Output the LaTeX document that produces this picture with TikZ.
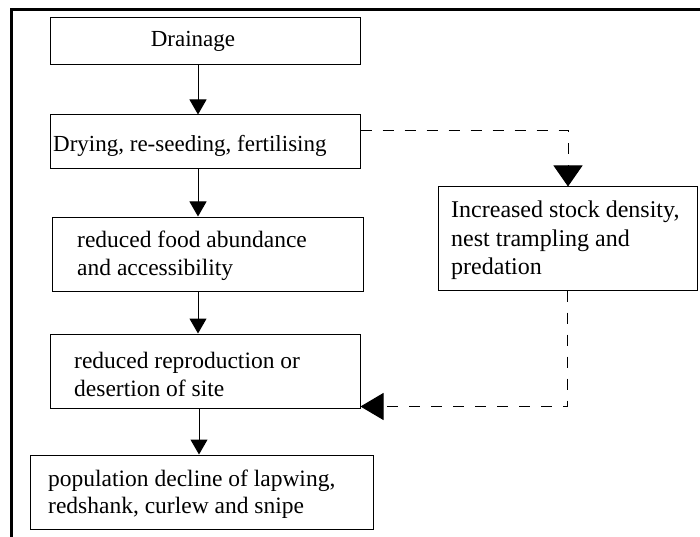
\documentclass[tikz,border=0pt]{standalone}
\usepackage{fontspec}
\setmainfont{Liberation Serif}
\usetikzlibrary{arrows.meta}
\begin{document}
\begin{tikzpicture}[x=1pt,y=-1pt,
  box/.style={draw=black, line width=1pt, inner sep=0pt, minimum width=#1},
  txt/.style={inner sep=0pt, align=left, font=\fontsize{23.5}{28}\selectfont},
  arr/.style={line width=1pt, -{Triangle[length=15pt,width=17pt]}},
  dsh/.style={line width=1pt, dash pattern=on 11pt off 11pt}]
\useasboundingbox (0,0) rectangle (700,537);
% outer frame
\draw[line width=2.3pt] (11.5,537) -- (11.5,9.5) -- (700,9.5);
% boxes
\node[box=310pt, minimum height=47pt] (drainB) at (205,41.5) {};
\node[box=310pt, minimum height=54pt] (dryB) at (205,142) {};
\node[box=311pt, minimum height=74pt] (foodB) at (207.5,254) {};
\node[box=310pt, minimum height=74pt] (reproB) at (205,371) {};
\node[box=343pt, minimum height=74pt] (popB) at (201.5,492) {};
\node[box=259pt, minimum height=103pt] (incB) at (567.5,238.5) {};
% texts
\node[txt, anchor=base, font=\fontsize{23}{28}\selectfont] (drainT) at (193,46.5) {Drainage};
\node[txt, anchor=base west, font=\fontsize{23}{28}\selectfont] (dryT) at (53,152) {Drying, re-seeding, fertilising};
\node[txt, anchor=north west] (foodT) at (77,227.4) {\strut reduced food abundance\\\strut and accessibility};
\node[txt, anchor=north west] (reproT) at (74,348.4) {\strut reduced reproduction or\\\strut desertion of site};
\node[txt, anchor=north west, font=\fontsize{23.5}{27.3}\selectfont] (popT) at (48,466.9) {\strut population decline of lapwing,\\\strut redshank, curlew and snipe};
\node[txt, anchor=north west, font=\fontsize{24}{28.2}\selectfont] (incT) at (451,198) {\strut Increased stock density,\\\strut nest trampling and\\\strut predation};
% solid arrows
\draw[arr] ([xshift=-7pt]drainB.south) -- ([xshift=-7pt]drainB.south |- dryB.north);
\draw[arr] ([xshift=-7pt]dryB.south) -- ([xshift=-7pt]dryB.south |- foodB.north);
\draw[arr] ([xshift=-9.5pt]foodB.south) -- ([xshift=-9.5pt]foodB.south |- reproB.north);
\draw[arr] ([xshift=-6pt]reproB.south) -- ([xshift=-6pt]reproB.south |- popB.north);
% dashed arrows
\draw[dsh, -{Triangle[length=21pt,width=29pt]}] ([yshift=11pt]dryB.east) -| ([xshift=0.5pt]incB.north);
\draw[dsh, -{Triangle[length=23pt,width=27pt]}] (incB.south) |- ([yshift=2pt]reproB.south east);
\end{tikzpicture}
\end{document}
